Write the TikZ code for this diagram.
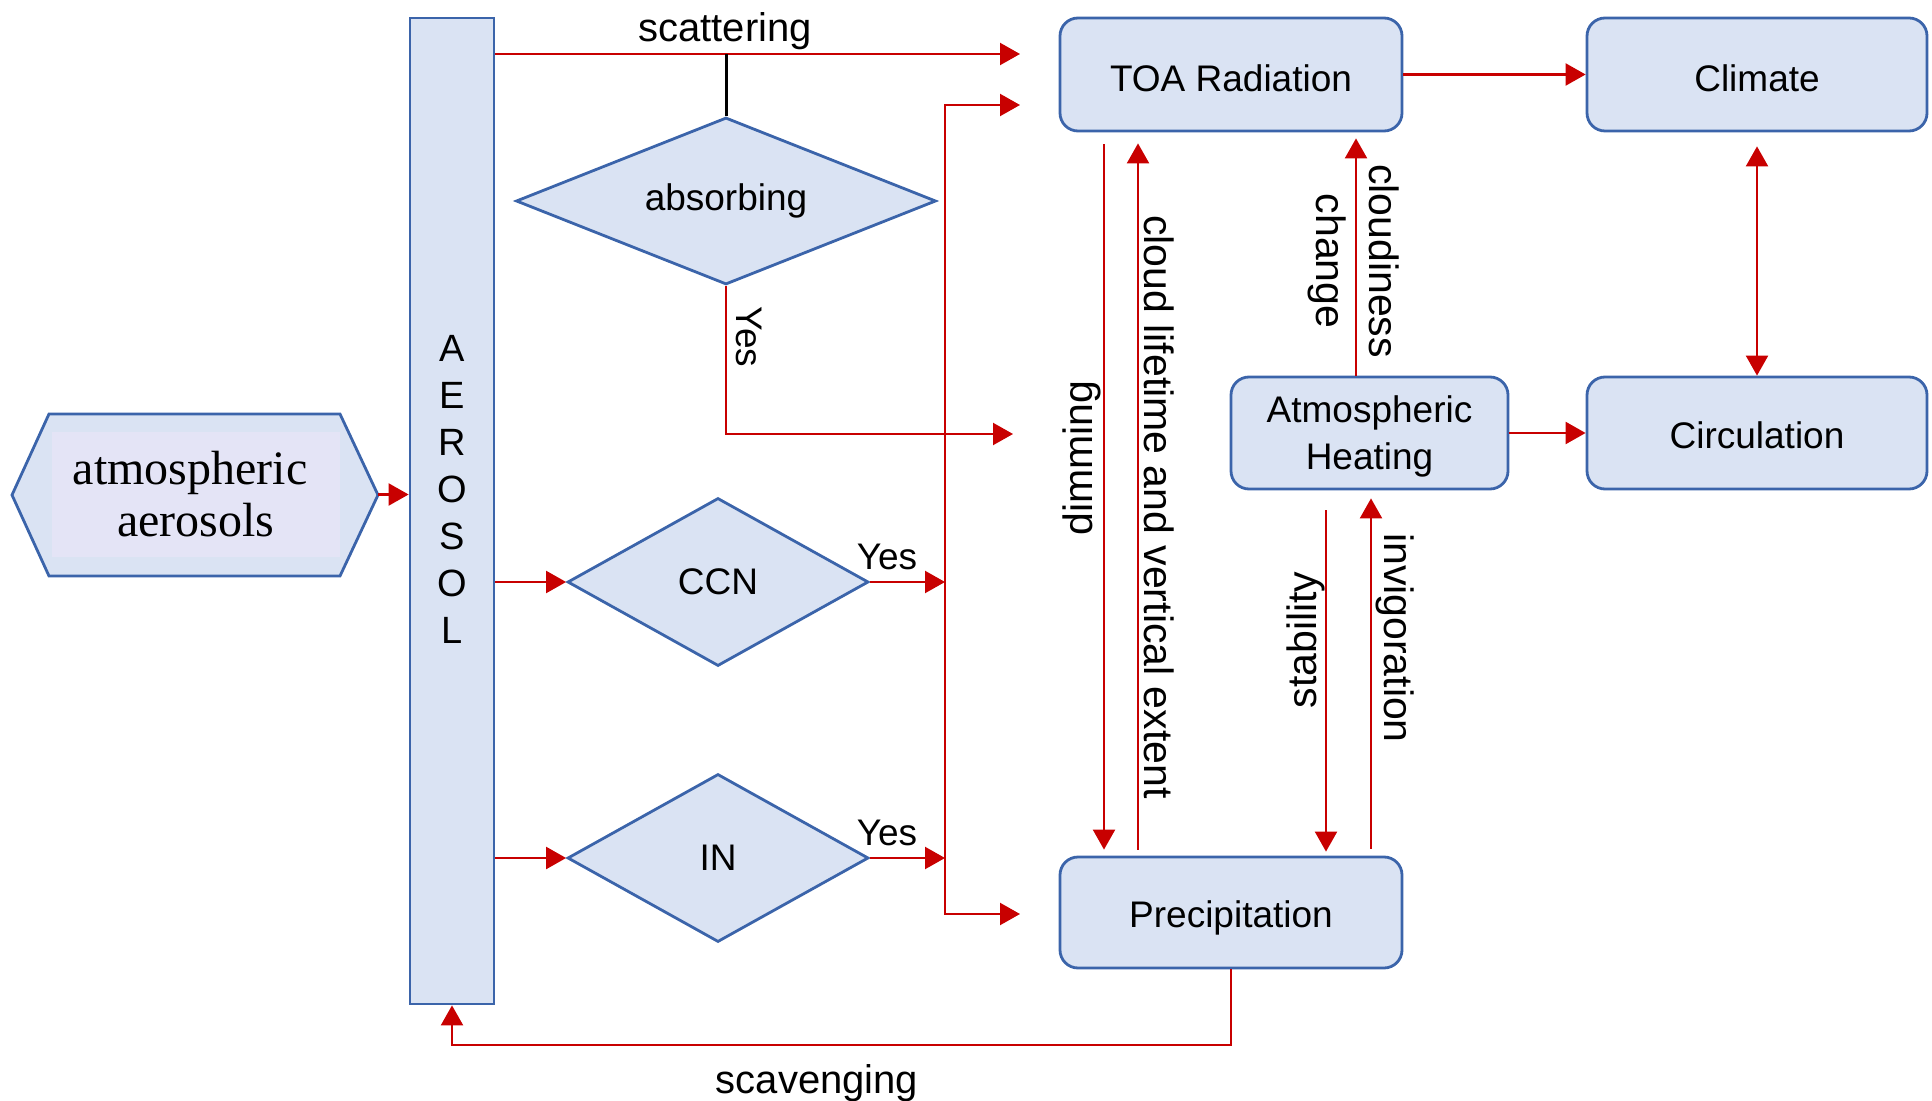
\documentclass[tikz,border=0pt]{standalone}
\usepackage{fontspec}
\setmainfont{Liberation Sans}
\newfontfamily\serifA{Liberation Serif}
\usetikzlibrary{shapes.geometric,arrows.meta,calc}
\definecolor{boxfill}{HTML}{DAE3F3}
\definecolor{boxline}{HTML}{3B64AA}
\definecolor{arrred}{HTML}{C80000}
\definecolor{hexin}{HTML}{E4E4F6}
\begin{document}
\begin{tikzpicture}[x=0.5pt,y=-0.5pt,
  box/.style={draw=boxline, fill=boxfill, line width=1.4pt, rounded corners=9pt, inner sep=0pt,
    font=\fontsize{18.5}{20}\selectfont, align=center},
  oneline/.style={text height=17.3pt, text depth=0pt},
  dia/.style={diamond, draw=boxline, fill=boxfill, line width=1.4pt, inner sep=0pt,
    font=\fontsize{18.5}{20}\selectfont},
  arr/.style={draw=arrred, line width=1.1pt, -{Triangle[length=10pt,width=11pt]}},
  arrtwo/.style={draw=arrred, line width=1.1pt, {Triangle[length=10pt,width=11pt]}-{Triangle[length=10pt,width=11pt]}},
  lbl/.style={font=\fontsize{20.5}{24}\selectfont, inner sep=0pt},
  hlbl/.style={font=\fontsize{20}{24}\selectfont, inner sep=0pt},
  yeslbl/.style={font=\fontsize{18.5}{22}\selectfont, inner sep=0pt},
]
\useasboundingbox (0,0) rectangle (1932,1101);

% hexagon "atmospheric aerosols"
\filldraw[fill=boxfill, draw=boxline, line width=1.4pt]
  (12,495) -- (49,414) -- (340,414) -- (378,495) -- (340,576) -- (49,576) -- cycle;
\node (hex) [fill=hexin, minimum width=144pt, minimum height=62.5pt, inner sep=0pt,
  font=\serifA\fontsize{24}{26}\selectfont, align=center] at (196,494.5) {atmospheric\hspace*{6pt}\\aerosols};

% AEROSOL bar
\node (aerosol) [draw=boxline, fill=boxfill, line width=1.4pt, minimum width=42pt,
  minimum height=493pt, inner sep=0pt] at (452,511) {};
\node (aerotxt) [font=\fontsize{19}{23.5}\selectfont, align=center, inner sep=0pt] at (452,489)
  {A\\E\\R\\O\\S\\O\\L};

% diamonds
\node (absorb) [dia, aspect=2.5, minimum width=210pt, minimum height=83.5pt] at (726,201) {absorbing};
\node (ccn) [dia, aspect=1.8, minimum width=150.5pt, minimum height=84pt] at (718,582) {CCN};
\node (in) [dia, aspect=1.8, minimum width=150.5pt, minimum height=84pt] at (718,858) {IN};

% boxes
\node (toa) [box, oneline, minimum width=171pt, minimum height=56.5pt] at (1231,74.5) {TOA Radiation};
\node (climate) [box, oneline, minimum width=170pt, minimum height=56.5pt] at (1757,74.5) {Climate};
\node (circ) [box, oneline, text height=15.5pt, minimum width=170pt, minimum height=56pt] at (1757,433) {Circulation};
\node (heat) [box, font=\fontsize{18.5}{23.5}\selectfont, text depth=0pt, minimum width=138.5pt, minimum height=56pt] at (1369.5,433) {Atmospheric\\Heating};
\node (precip) [box, oneline, text height=14.8pt, minimum width=171pt, minimum height=55.5pt] at (1231,912.5) {Precipitation};

% hexagon -> aerosol
\draw[arr] ($(hex.east)+(38,0)$) -- (aerosol.west |- hex);

% scattering
\coordinate (scatEnd) at (1020,54);
\draw[arr] (aerosol.east |- scatEnd) -- (scatEnd);
\node[hlbl] (scatlbl) at (725,31) {scattering};
\draw[black, line width=1.5pt] (absorb.north) -- (absorb.north |- scatEnd);

% absorbing yes
\coordinate (absEnd) at (1013,434);
\draw[arr] (absorb.south) |- (absEnd);
\node[yeslbl, rotate=-90] (yesA) at (749,337) {Yes};

% CCN and IN
\coordinate (busX) at (945,0);
\draw[arr] (aerosol.east |- ccn) -- (ccn.west);
\draw[arr] (ccn.east) -- (ccn.east -| busX);
\node[yeslbl] (yesC) at (887,557) {Yes};
\draw[arr] (aerosol.east |- in) -- (in.west);
\draw[arr] (in.east) -- (in.east -| busX);
\node[yeslbl] (yesI) at (887,833) {Yes};

% bus
\coordinate (busTop) at (1020,105);
\coordinate (busBot) at (1020,914);
\draw[arrtwo] (busTop) -- (busTop -| busX) -- (busBot -| busX) -- (busBot);

% right part
\draw[arr] (toa.east) -- (climate.west);
\draw[arrtwo, shorten <=7pt] (climate.south) -- (circ.north);
\draw[arr] (heat.east) -- (circ.west);

\coordinate (dimX) at (1104,0);
\coordinate (cltX) at (1138,0);
\coordinate (cldX) at (1356,0);
\coordinate (stabX) at (1326,0);
\coordinate (invX) at (1371,0);
\draw[arr, shorten <=6pt, shorten >=3pt] (toa.south -| dimX) -- (precip.north -| dimX);
\draw[arr, shorten <=3pt, shorten >=5.5pt] (precip.north -| cltX) -- (toa.south -| cltX);
\draw[arr, shorten >=3pt] (heat.north -| cldX) -- (toa.south -| cldX);
\draw[arr, shorten <=10pt, shorten >=2pt] (heat.south -| stabX) -- (precip.north -| stabX);
\draw[arr, shorten <=3.5pt, shorten >=4pt] (precip.north -| invX) -- (heat.south -| invX);

\node[lbl, rotate=90] (dimlbl) at (1082,458) {dimming};
\node[lbl, rotate=-90] (cltlbl) at (1159,507) {cloud lifetime and vertical extent};
\node[lbl, rotate=-90, align=center, font=\fontsize{20.5}{26.5}\selectfont] (cldlbl) at (1354,261) {cloudiness\\change};
\node[lbl, rotate=90] (stablbl) at (1306,640) {stability};
\node[lbl, rotate=-90] (invlbl) at (1395,638) {invigoration};

% scavenging
\coordinate (scavY) at (0,1045);
\draw[arr] (precip.south) -- (precip.south |- scavY) -| (aerosol.south);
\node[hlbl] (scavlbl) at (817,1083) {scavenging};
\end{tikzpicture}
\end{document}
